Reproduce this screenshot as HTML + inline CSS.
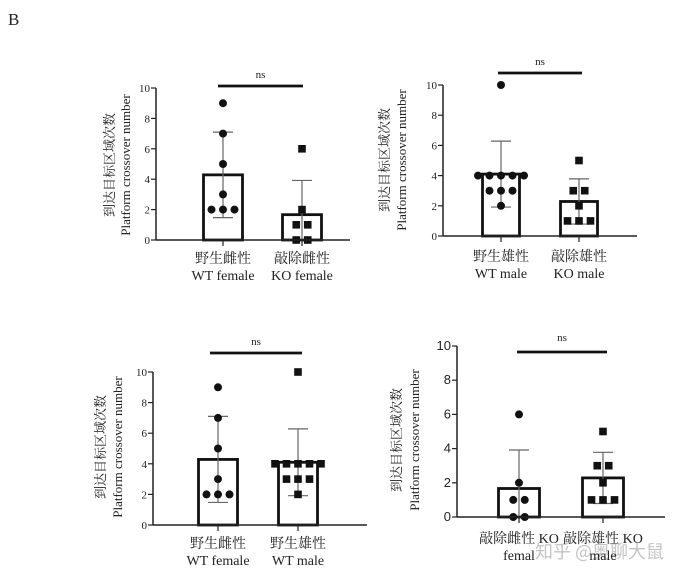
<!DOCTYPE html>
<html><head><meta charset="utf-8"><style>
html,body{margin:0;padding:0;background:#fff;}
svg{display:block;}
text{font-family:"Liberation Serif","Noto Serif CJK SC",serif;fill:#222;}
</style></head><body>
<svg id="fig" width="696" height="584" viewBox="0 0 696 584" xmlns="http://www.w3.org/2000/svg">
<text x="8" y="25" font-size="17">B</text>
<text x="535" y="558" font-size="18" style="fill:#c4c4c4;font-family:'Noto Sans CJK SC',sans-serif">知乎 @奥聊大鼠</text>
</svg>
<script>
const wtFemale = [9, 7, 5, 3, 2, 2, 2];
const koFemale = [6, 2, 1, 1, 0, 0];
const wtMale = [10, 4, 4, 4, 4, 4, 3, 3, 3, 2];
const koMale = [5, 3, 3, 2, 1, 1, 1];
const yTicks = [0, 2, 4, 6, 8, 10];
const panel1Labels = [["野生雌性","WT female"],["敲除雌性","KO female"]];
const panel2Labels = [["野生雄性","WT male"],["敲除雄性","KO male"]];
const panel3Labels = [["野生雌性","WT female"],["野生雄性","WT male"]];
const panel4Labels = [["敲除雌性 KO","femal"],["敲除雄性 KO","male"]];

const NS="http://www.w3.org/2000/svg";
const svg=document.getElementById('fig');
function mk(tag,attrs,parent){const e=document.createElementNS(NS,tag);for(const k in attrs)e.setAttribute(k,attrs[k]);(parent||svg).appendChild(e);return e;}
function mean(a){return a.reduce((s,v)=>s+v,0)/a.length;}
function sd(a){const m=mean(a);return Math.sqrt(a.reduce((s,v)=>s+(v-m)*(v-m),0)/(a.length-1));}

const panels=[
 {ax:156,y0:240,y10:88,xEnd:350,centers:[223,302],bw:39,sigY:86,sigX:[218,303],nsY:78,lab:[263,280],tx:[114,130],tc:165,fs:13,tickFs:11,groups:[wtFemale,koFemale],shapes:['c','s'],labels:panel1Labels},
 {ax:443,y0:236,y10:85,xEnd:637,centers:[501,579],bw:37,sigY:73,sigX:[498,582],nsY:65,lab:[261,278],tx:[389,406],tc:160,fs:13,tickFs:11,groups:[wtMale,koMale],shapes:['c','s'],labels:panel2Labels},
 {ax:153,y0:525,y10:372,xEnd:367,centers:[218,298],bw:39,sigY:353,sigX:[210,302],nsY:345,lab:[548,565],tx:[105,122],tc:447,fs:13,tickFs:11,groups:[wtFemale,wtMale],shapes:['c','s'],labels:panel3Labels},
 {ax:457,y0:517,y10:346,xEnd:665,centers:[519,603],bw:41,sigY:352,sigX:[517,607],nsY:341,lab:[543,560],tx:[401,419],tc:440,fs:13,tickFs:13,groups:[koFemale,koMale],shapes:['c','s'],labels:panel4Labels}
];

panels.forEach((p,pi)=>{
 const g=mk('g',{});
 
 
 const y=v=>p.y0+(p.y10-p.y0)*v/10;
 const ya=mk('line',{x1:p.ax,y1:p.y0,x2:p.ax,y2:p.y10,stroke:'#222','stroke-width':1.5},g);
 
 
 yTicks.forEach(t=>{
  const tk=mk('line',{x1:p.ax-5,y1:y(t),x2:p.ax,y2:y(t),stroke:'#222','stroke-width':1.2},g);
  
  
  const tl=mk('text',{x:p.ax-6,y:y(t)+4,'font-size':p.tickFs,'text-anchor':'end'},g);
  
  
  if(pi===3) tl.setAttribute('style','font-family:"Liberation Sans",sans-serif');
  tl.textContent=t;
 });
 p.groups.forEach((d,gi)=>{
  const cx=p.centers[gi], m=mean(d), s=sd(d);
  const bar=mk('rect',{x:cx-p.bw/2,y:y(m),width:p.bw,height:p.y0-y(m),fill:'#fff',stroke:'#111','stroke-width':2.8},g);
  
  
  const eb=mk('path',{d:`M${cx},${y(m+s)}V${y(Math.max(m-s,0))}M${cx-10},${y(m+s)}H${cx+10}M${cx-10},${y(Math.max(m-s,0))}H${cx+10}`,stroke:'#666','stroke-width':1.2,fill:'none'},g);
  
  
  const counts={};d.forEach(v=>counts[v]=(counts[v]||0)+1);
  const seen={};
  d.forEach(v=>{
   const n=counts[v], i=(seen[v]=(seen[v]||0)+1)-1;
   const px=cx+(i-(n-1)/2)*11.5, py=y(v);
   let pt;
   if(p.shapes[gi]==='c') pt=mk('circle',{cx:px,cy:py,r:4,fill:'#111'},g);
   else pt=mk('rect',{x:px-3.8,y:py-3.8,width:7.6,height:7.6,fill:'#111'},g);
   
   
  });
  const xt=mk('line',{x1:cx,y1:p.y0,x2:cx,y2:p.y0+6,stroke:'#222','stroke-width':1.2},g);
  
  
  p.labels[gi].forEach((l,li)=>{
   const t=mk('text',{x:cx,y:p.lab[li],'font-size':p.fs+1,'text-anchor':'middle'},g);
   
   
   t.textContent=l;
  });
 });
 const xa=mk('line',{x1:p.ax,y1:p.y0,x2:p.xEnd,y2:p.y0,stroke:'#222','stroke-width':1.6},g);
 
 
 const sb=mk('line',{x1:p.sigX[0],y1:p.sigY,x2:p.sigX[1],y2:p.sigY,stroke:'#111','stroke-width':2.8},g);
 
 
 const ns=mk('text',{x:(p.sigX[0]+p.sigX[1])/2,y:p.nsY,'font-size':11,'text-anchor':'middle'},g);
 
 
 ns.textContent='ns';
 [["到达目标区域次数",0],["Platform crossover number",1]].forEach(([s,i])=>{
  const t=mk('text',{x:p.tx[i],y:p.tc,'font-size':p.fs,'text-anchor':'middle',transform:`rotate(-90 ${p.tx[i]} ${p.tc})`},g);
  
  
  t.textContent=s;
 });
});
</script>
</body></html>
